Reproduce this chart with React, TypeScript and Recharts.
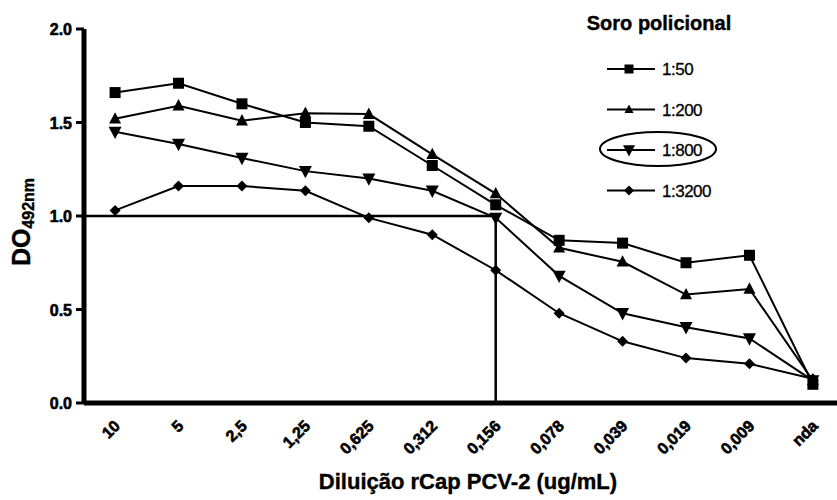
import React from 'react'
import { LineChart, Line, XAxis, YAxis, ReferenceLine, Legend } from 'recharts'

const categories = ['10', '5', '2,5', '1,25', '0,625', '0,312', '0,156', '0,078', '0,039', '0,019', '0,009', 'nda']
const s50 = [1.66, 1.71, 1.6, 1.5, 1.48, 1.27, 1.06, 0.87, 0.855, 0.75, 0.79, 0.1]
const s200 = [1.52, 1.59, 1.51, 1.55, 1.545, 1.33, 1.12, 0.83, 0.755, 0.58, 0.61, 0.12]
const s800 = [1.45, 1.385, 1.31, 1.24, 1.2, 1.135, 0.99, 0.68, 0.48, 0.405, 0.345, 0.12]
const s3200 = [1.03, 1.16, 1.16, 1.135, 0.99, 0.9, 0.71, 0.48, 0.33, 0.24, 0.21, 0.13]
const yTicks = [0, 0.5, 1, 1.5, 2]
const cutoff = 1.0
const cutoffIdx = 6

const data = categories.map((c, i) => ({
  idx: i,
  label: c,
  s50: s50[i],
  s200: s200[i],
  s800: s800[i],
  s3200: s3200[i],
}))

const FONT = '"Liberation Sans", Arial, sans-serif'

type Shape = 'square' | 'up' | 'down' | 'diamond'

const Marker = ({ shape, cx, cy, size }: { shape: Shape; cx: number; cy: number; size: number }) => {
  const h = size / 2
  if (shape === 'square') return <rect x={cx - h} y={cy - h} width={size} height={size} fill="#000" />
  if (shape === 'up')
    return <polygon points={`${cx},${cy - h * 1.1} ${cx + h},${cy + h * 0.8} ${cx - h},${cy + h * 0.8}`} fill="#000" />
  if (shape === 'down')
    return <polygon points={`${cx - h},${cy - h * 0.8} ${cx + h},${cy - h * 0.8} ${cx},${cy + h * 1.1}`} fill="#000" />
  return <polygon points={`${cx},${cy - h} ${cx + h},${cy} ${cx},${cy + h} ${cx - h},${cy}`} fill="#000" />
}

const series: { key: string; name: string; shape: Shape; size: number; legendSize: number }[] = [
  { key: 's50', name: '1:50', shape: 'square', size: 11, legendSize: 9 },
  { key: 's200', name: '1:200', shape: 'up', size: 12, legendSize: 9 },
  { key: 's800', name: '1:800', shape: 'down', size: 13, legendSize: 12 },
  { key: 's3200', name: '1:3200', shape: 'diamond', size: 11, legendSize: 10 },
]

// heavy text helper: bold plus a thin outline, the original uses a black-ish font
const heavy = { fontFamily: FONT, fontWeight: 'bold' as const, fill: '#000', stroke: '#000', strokeWidth: 0.6 }

const XTick = (props: any) => {
  const { x, payload } = props
  const ex = x + 6
  const ey = 427
  return (
    <text x={ex} y={ey} transform={`rotate(-45, ${ex}, ${ey})`} textAnchor="end" fontSize={16} {...heavy}>
      {categories[payload.value]}
    </text>
  )
}

const YTick = (props: any) => {
  const { x, y, payload } = props
  return (
    <text x={x} y={y} dy={6} textAnchor="end" fontSize={16} {...heavy}>
      {payload.value.toFixed(1)}
    </text>
  )
}

const LegendBox = () => (
  <svg width={240} height={210}>
    <text x={99} y={30} textAnchor="middle" fontSize={20} {...heavy} strokeWidth={0.4}>
      Soro policional
    </text>
    {series.map((s, i) => {
      const cy = 69 + i * 40.5
      return (
        <g key={s.key}>
          <line x1={47} x2={95} y1={cy} y2={cy} stroke="#000" strokeWidth={2} />
          <Marker shape={s.shape} cx={69} cy={cy} size={s.legendSize} />
          <text x={102} y={cy + 6} fontFamily={FONT} fontSize={17} fill="#000" stroke="#000" strokeWidth={0.3} letterSpacing={-0.5}>
            {s.name}
          </text>
        </g>
      )
    })}
    <ellipse cx={98} cy={149} rx={58} ry={17} fill="none" stroke="#000" strokeWidth={2} />
  </svg>
)

export default function App() {
  return (
    <div style={{ position: 'absolute', left: 0, top: 0, background: '#fff' }}>
      <LineChart width={837} height={500} data={data} margin={{ top: 29, right: 0, bottom: 0, left: 0 }}>
        <XAxis
          type="number"
          dataKey="idx"
          domain={[-0.49, 11.38]}
          ticks={categories.map((_, i) => i)}
          allowDataOverflow
          height={97}
          axisLine={{ stroke: '#000', strokeWidth: 5 }}
          tickLine={false}
          tick={<XTick />}
          interval={0}
          label={{
            content: () => (
              <text x={468} y={489} textAnchor="middle" fontSize={22} {...heavy} strokeWidth={0.4}>
                Diluição rCap PCV-2 (ug/mL)
              </text>
            ),
          }}
        />
        <YAxis
          type="number"
          domain={[0, 2]}
          ticks={yTicks}
          width={84}
          axisLine={{ stroke: '#000', strokeWidth: 5 }}
          tickLine={{ stroke: '#000', strokeWidth: 3 }}
          tickSize={8}
          tickMargin={4}
          tick={<YTick />}
          label={{
            content: () => (
              <text x={30} y={222} transform="rotate(-90, 30, 222)" textAnchor="middle" fontSize={25} {...heavy} strokeWidth={0.4}>
                DO
                <tspan fontSize={16} dy={4}>
                  492nm
                </tspan>
              </text>
            ),
          }}
        />
        <ReferenceLine
          segment={[
            { x: -0.49, y: cutoff },
            { x: cutoffIdx, y: cutoff },
          ]}
          stroke="#000"
          strokeWidth={2.5}
          ifOverflow="visible"
        />
        <ReferenceLine
          segment={[
            { x: cutoffIdx, y: 0 },
            { x: cutoffIdx, y: cutoff },
          ]}
          stroke="#000"
          strokeWidth={2.5}
          ifOverflow="visible"
        />
        {series.map((s) => (
          <Line
            key={s.key}
            type="linear"
            dataKey={s.key}
            name={s.name}
            stroke="#000"
            strokeWidth={2}
            isAnimationActive={false}
            dot={(p: any) => <Marker key={`${s.key}-${p.index}`} shape={s.shape} cx={p.cx} cy={p.cy} size={s.size} />}
            activeDot={false}
          />
        ))}
        <Legend
          layout="vertical"
          align="center"
          verticalAlign="middle"
          wrapperStyle={{ left: 560, top: 0, width: 240, height: 210 }}
          content={() => <LegendBox />}
        />
      </LineChart>
    </div>
  )
}
